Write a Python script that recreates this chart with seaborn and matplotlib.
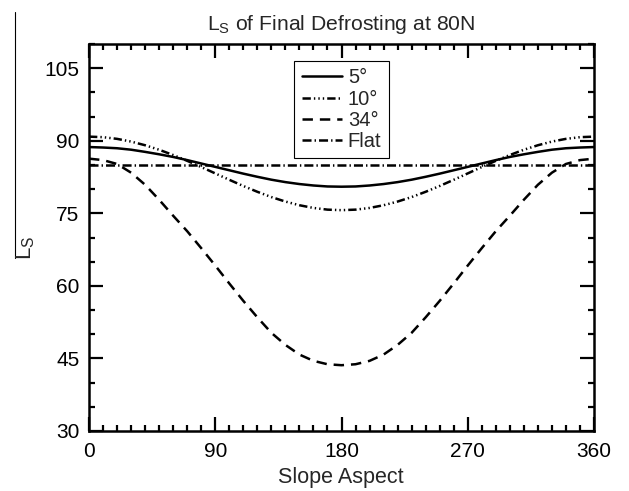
import numpy as np
import pandas as pd
import matplotlib
matplotlib.use("Agg")
import matplotlib.pyplot as plt
from matplotlib.lines import Line2D
import seaborn as sns

# ---- data ----
aspect = list(range(0, 361, 10))

ls_5deg_half = [88.7, 88.6, 88.45, 88.15, 87.7, 87.2, 86.65, 86.0, 85.3, 84.6,
                83.9, 83.2, 82.55, 81.95, 81.45, 81.05, 80.75, 80.55, 80.5]
ls_10deg_half = [90.85, 90.74, 90.39, 89.83, 89.07, 88.14, 87.05, 85.85, 84.57, 83.25,
                 81.93, 80.65, 79.45, 78.36, 77.43, 76.67, 76.11, 75.76, 75.65]
ls_34deg_half = [86.3, 86.0, 85.2, 83.4, 80.9, 77.8, 74.5, 71.3, 67.8, 64.2,
                 60.5, 56.9, 53.5, 50.3, 47.8, 45.8, 44.5, 43.8, 43.6]
ls_5deg = ls_5deg_half + ls_5deg_half[-2::-1]
ls_10deg = ls_10deg_half + ls_10deg_half[-2::-1]
ls_34deg = ls_34deg_half + ls_34deg_half[-2::-1]
ls_flat = [85.0] * len(aspect)

series_labels = ["5°", "10°", "34°", "Flat"]
title_text = r"L$_\mathrm{S}$ of Final Defrosting at 80N"
xlabel_text = "Slope Aspect"
ylabel_text = r"L$_\mathrm{S}$"
xticks = [0, 90, 180, 270, 360]
yticks = [30, 45, 60, 75, 90, 105]

# ---- style ----
sns.set_style("ticks")
plt.rcParams["font.family"] = ["Liberation Sans", "DejaVu Sans"]
plt.rcParams["mathtext.fontset"] = "custom"
plt.rcParams["mathtext.rm"] = "Liberation Sans"
plt.rcParams["mathtext.it"] = "Liberation Sans"
plt.rcParams["lines.scale_dashes"] = False

W, H = 629, 491
fig = plt.figure(figsize=(W / 100, H / 100), dpi=100)
ax = fig.add_axes([89 / W, 1 - 431 / H, (594 - 89) / W, (431 - 44) / H])

styles = [
    dict(linestyle="-"),
    dict(dashes=(6, 2.2, 1, 2.2, 1, 2.2, 1, 2.2)),
    dict(dashes=(7.5, 5)),
    dict(dashes=(6.5, 2.2, 1, 2.2)),
]
data = [ls_5deg, ls_10deg, ls_34deg, ls_flat]
for vals, lab, st in zip(data, series_labels, styles):
    df = pd.DataFrame({"aspect": aspect, "ls": vals})
    sns.lineplot(data=df, x="aspect", y="ls", ax=ax, color="black",
                 linewidth=1.8, label=lab, **st)

ax.set_xlim(0, 360)
ax.set_ylim(30, 110)
ax.set_xticks(xticks)
ax.set_yticks(yticks)
ax.set_xticks(range(0, 361, 10), minor=True)
ax.set_yticks(range(30, 111, 5), minor=True)
ax.tick_params(which="both", direction="in", top=True, right=True,
               width=1.6, labelsize=15, colors="black")
ax.tick_params(which="major", length=10)
ax.tick_params(axis="x", which="major", pad=8)
ax.tick_params(axis="y", which="major", pad=7)
ax.tick_params(which="minor", length=4.5)
for sp in ax.spines.values():
    sp.set_linewidth(1.8)
    sp.set_color("black")
    sp.set_visible(True)

ax.set_xlabel("")
ax.set_ylabel("")
fig.text(341 / W, 1 - 477 / H, xlabel_text, ha="center", va="center", fontsize=15.5)
fig.text(341 / W, 1 - 24 / H, title_text, ha="center", va="center", fontsize=15.2)
fig.text(26 / W, 1 - 248 / H, ylabel_text, ha="center", va="center",
         rotation=90, fontsize=16)
fig.add_artist(Line2D([15 / W, 15 / W], [1 - 12 / H, 1 - 258 / H],
                      transform=fig.transFigure, color="black", linewidth=0.8))

leg = ax.legend(loc="upper center", bbox_to_anchor=(0.5, 1.0), fontsize=14.5,
                frameon=True, fancybox=False, framealpha=1, edgecolor="black",
                handlelength=2.0, handletextpad=0.3, labelspacing=0.12,
                borderpad=0.35, borderaxespad=0.85)
leg.get_frame().set_linewidth(0.8)

fig.savefig("out.png", dpi=100)
